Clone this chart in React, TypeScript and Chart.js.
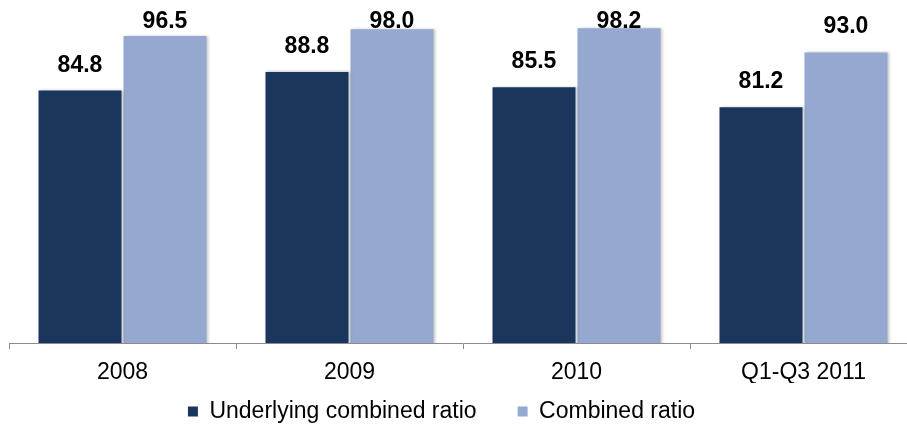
import React, { useEffect, useRef } from 'react';
import { Chart, registerables } from 'chart.js';

Chart.register(...registerables);

const categories = ['2008', '2009', '2010', 'Q1-Q3 2011'];
const underlyingCombinedRatio = [84.8, 88.8, 85.5, 81.2];
const combinedRatio = [96.5, 98.0, 98.2, 93.0];
const seriesNames = ['Underlying combined ratio', 'Combined ratio'];
const seriesColors = ['#1b365d', '#95a9d0'];

const FONT = "Arial, 'Liberation Sans', sans-serif";

export default function App() {
  const ref = useRef<HTMLCanvasElement>(null);

  useEffect(() => {
    const canvas = ref.current;
    if (!canvas) return;

    const shadowPlugin = {
      id: 'barShadow',
      beforeDatasetDraw(chart: any) {
        const ctx = chart.ctx;
        ctx.save();
        ctx.shadowColor = 'rgba(0,0,0,0.28)';
        ctx.shadowBlur = 3;
        ctx.shadowOffsetX = 1.5;
        ctx.shadowOffsetY = -0.5;
      },
      afterDatasetDraw(chart: any) {
        chart.ctx.restore();
      },
    };

    // pull the legend up closer to the axis labels (as in the original layout)
    const legendShiftPlugin = {
      id: 'legendShift',
      afterLayout(chart: any) {
        const lg = chart.legend;
        if (lg) {
          lg.top -= 24;
          lg.bottom -= 24;
          lg.left -= 7.5;
          lg.right -= 7.5;
        }
      },
    };

    const valueLabelPlugin = {
      id: 'valueLabels',
      afterDraw(chart: any) {
        const ctx = chart.ctx;
        ctx.save();
        ctx.font = `bold 23px ${FONT}`;
        ctx.fillStyle = '#000000';
        ctx.textAlign = 'center';
        ctx.textBaseline = 'alphabetic';
        chart.data.datasets.forEach((ds: any, di: number) => {
          const meta = chart.getDatasetMeta(di);
          meta.data.forEach((bar: any, i: number) => {
            const v = ds.data[i] as number;
            const y = Math.max(bar.y - 19, chart.chartArea.top + 10);
            ctx.fillText(v.toFixed(1), bar.x, y);
          });
        });
        ctx.restore();
      },
    };

    const chart = new Chart(canvas, {
      type: 'bar',
      data: {
        labels: categories,
        datasets: [
          {
            label: seriesNames[0],
            data: underlyingCombinedRatio,
            backgroundColor: seriesColors[0],
            borderWidth: 0,
            categoryPercentage: 0.749,
            barPercentage: 0.976,
          },
          {
            label: seriesNames[1],
            data: combinedRatio,
            backgroundColor: seriesColors[1],
            borderWidth: 0,
            categoryPercentage: 0.749,
            barPercentage: 0.976,
          },
        ],
      },
      options: {
        responsive: false,
        animation: false,
        devicePixelRatio: 1,
        layout: { padding: { top: 17.5, left: 0, right: 0, bottom: 0 } },
        plugins: {
          tooltip: { enabled: false },
          legend: {
            display: true,
            position: 'bottom',
            labels: {
              boxWidth: 10,
              boxHeight: 10,
              padding: 41,
              color: '#000000',
              font: { family: FONT, size: 23 },
            },
          },
        },
        scales: {
          x: {
            offset: true,
            grid: {
              display: true,
              drawOnChartArea: false,
              drawTicks: true,
              tickLength: 6,
              color: '#8c8c8c',
              offset: true,
            },
            border: { display: true, color: '#8c8c8c', width: 1 },
            ticks: {
              color: '#000000',
              padding: 10,
              font: { family: FONT, size: 23 },
              maxRotation: 0,
            },
            afterFit(scale: any) {
              scale.height = 40;
            },
          },
          y: {
            min: 30.5,
            max: 100.5,
            display: true,
            grid: { display: false },
            border: { display: false },
            ticks: { display: false },
            afterFit(scale: any) {
              scale.width = 28;
            },
          },
        },
      },
      plugins: [shadowPlugin, legendShiftPlugin, valueLabelPlugin],
    } as any);

    return () => chart.destroy();
  }, []);

  return (
    <div
      style={{
        position: 'fixed',
        left: 0,
        top: 0,
        width: '907px',
        height: '424px',
        overflow: 'hidden',
        background: '#ffffff',
      }}
    >
      <canvas
        ref={ref}
        width={936}
        height={457}
        style={{ position: 'absolute', left: '-19px', top: 0, width: '936px', height: '457px' }}
      />
    </div>
  );
}
